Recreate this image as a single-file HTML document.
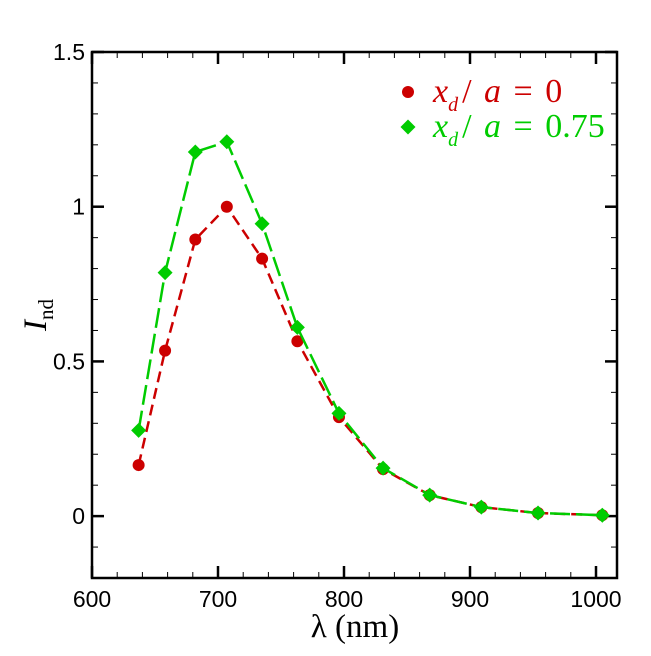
<!DOCTYPE html>
<html><head><meta charset="utf-8"><style>body{margin:0;background:#fff}</style></head>
<body>
<svg id="chart" width="651" height="651" xmlns="http://www.w3.org/2000/svg"></svg>
<script>
const lambdas = [637, 658, 682, 707, 735, 763, 796, 831, 868, 909, 954, 1005];
const seriesRed = [0.165, 0.535, 0.894, 1.0, 0.832, 0.565, 0.32, 0.152, 0.068, 0.029, 0.01, 0.003];
const seriesGreen = [0.277, 0.787, 1.177, 1.21, 0.945, 0.61, 0.332, 0.155, 0.068, 0.029, 0.01, 0.003];
const xTicks = [600, 700, 800, 900, 1000];
const yTicks = [0, 0.5, 1, 1.5];
const yTickLabels = ["0", "0.5", "1", "1.5"];

const NS = "http://www.w3.org/2000/svg";
const svg = document.getElementById("chart");
const L = 92, R = 617, T = 52, B = 578;
const xMin = 600, xMax = 600 + (R - L) / 1.26, yMin = -0.2, yMax = 1.5;
const sx = v => L + (v - xMin) * 1.26;
const sy = v => B - (v - yMin) / (yMax - yMin) * (B - T);
function mk(tag, attrs, parent) {
  const e = document.createElementNS(NS, tag);
  for (const k in attrs) e.setAttribute(k, attrs[k]);
  (parent || svg).appendChild(e);
  return e;
}
const frame = mk("rect", {x: L, y: T, width: R - L, height: B - T, fill: "none", stroke: "#000", "stroke-width": 2.5});


for (let v = 600; v <= xMax; v += 20) {
  const major = v % 100 === 0;
  const len = major ? 12 : 6;
  const x = sx(v);
  mk("line", {x1: x, x2: x, y1: B, y2: B - len, stroke: "#000", "stroke-width": major ? 2.5 : 1});
  mk("line", {x1: x, x2: x, y1: T, y2: T + len, stroke: "#000", "stroke-width": major ? 2.5 : 1});
}
xTicks.forEach(v => {
  const t = mk("text", {x: sx(v), y: 607, "text-anchor": "middle", "font-family": "Liberation Sans, sans-serif", "font-size": 23});
  t.textContent = v;
  
  
});
for (let i = -2; i <= 15; i++) {
  const v = i / 10;
  const major = i % 5 === 0;
  const len = major ? 12 : 6;
  const y = sy(v);
  mk("line", {x1: L, x2: L + len, y1: y, y2: y, stroke: "#000", "stroke-width": major ? 2.5 : 1});
  mk("line", {x1: R, x2: R - len, y1: y, y2: y, stroke: "#000", "stroke-width": major ? 2.5 : 1});
}
yTicks.forEach((v, i) => {
  const t = mk("text", {x: 85, y: sy(v) + 8, "text-anchor": "end", "font-family": "Liberation Sans, sans-serif", "font-size": 23});
  t.textContent = yTickLabels[i];
  
  
});
const xt = mk("text", {x: 355, y: 637, "text-anchor": "middle", "font-family": "Liberation Serif, serif", "font-size": 33});
xt.textContent = "λ (nm)";


const yt = mk("text", {transform: "translate(46,315) rotate(-90)", "text-anchor": "middle", "font-family": "Liberation Serif, serif", "font-size": 33});
yt.innerHTML = '<tspan font-style="italic">I</tspan><tspan font-size="21" dy="7">nd</tspan>';


function drawSeries(vals, color, dash, shape, name) {
  const pts = lambdas.map((l, i) => sx(l) + "," + sy(vals[i])).join(" ");
  const pl = mk("polyline", {points: pts, fill: "none", stroke: color, "stroke-width": 2.5, "stroke-dasharray": dash});
  
  
  lambdas.forEach((l, i) => {
    const x = sx(l), y = sy(vals[i]);
    let m;
    if (shape === "circle") m = mk("circle", {cx: x, cy: y, r: 6, fill: color});
    else m = mk("polygon", {points: `${x},${y-7.5} ${x+7.5},${y} ${x},${y+7.5} ${x-7.5},${y}`, fill: color});
    
    
  });
}
drawSeries(seriesRed, "#cc0000", "11,6", "circle", "series-xd-0");
drawSeries(seriesGreen, "#00cc00", "20,6", "diamond", "series-xd-075");
const lg = mk("g", {});


mk("circle", {cx: 408, cy: 92, r: 6, fill: "#cc0000"}, lg);
mk("polygon", {points: "408,119.5 415.5,127 408,134.5 400.5,127", fill: "#00cc00"}, lg);
const l1 = mk("text", {x: 433, y: 102, fill: "#cc0000", "font-family": "Liberation Serif, serif", "font-size": 34, "xml:space": "preserve"}, lg);
l1.innerHTML = '<tspan font-style="italic">x</tspan><tspan font-style="italic" font-size="20" dy="9">d</tspan><tspan dy="-9" dx="4">/ </tspan><tspan font-style="italic" dx="4">a</tspan><tspan dx="4"> = </tspan><tspan dx="4">0</tspan>';


const l2 = mk("text", {x: 433, y: 137, fill: "#00cc00", "font-family": "Liberation Serif, serif", "font-size": 34, "xml:space": "preserve"}, lg);
l2.innerHTML = '<tspan font-style="italic">x</tspan><tspan font-style="italic" font-size="20" dy="9">d</tspan><tspan dy="-9" dx="4">/ </tspan><tspan font-style="italic" dx="4">a</tspan><tspan dx="4"> = </tspan><tspan dx="4">0.75</tspan>';


</script>
</body></html>
